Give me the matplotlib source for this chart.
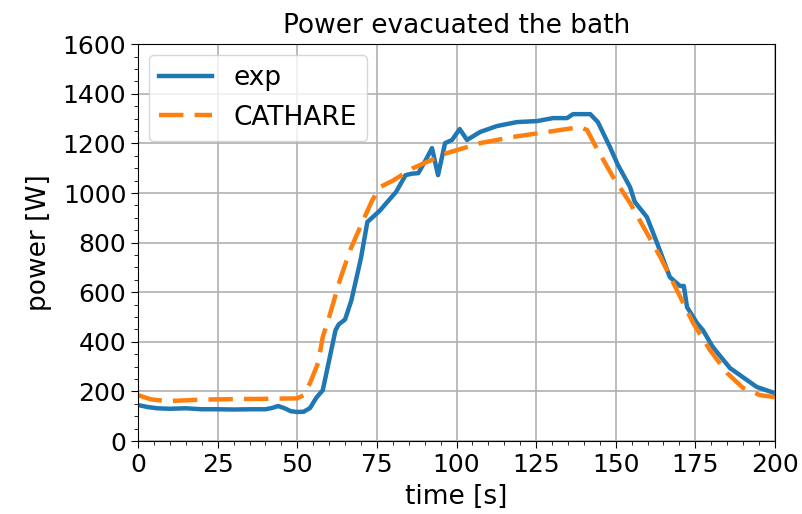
import matplotlib.pyplot as plt
from matplotlib.ticker import AutoMinorLocator, MultipleLocator

t_exp = [0, 3, 6, 10, 15, 20, 25, 30, 35, 40, 42, 44, 46, 48, 50, 52, 54, 56, 58,
         60, 62, 63, 65, 67, 70, 72, 74.4, 76, 78, 81, 84, 86, 88, 90, 92.3, 94.2,
         96.4, 98.6, 101, 103.3, 107.4, 112.7, 119, 125.3, 130.3, 134.7, 136.6,
         142, 144.4, 148.2, 150.7, 154.5, 156, 159.8, 163, 167, 170.2, 171.4,
         172.4, 175.5, 177.4, 180.5, 185.9, 189, 194.3, 200]
p_exp = [145, 137, 132, 130, 132, 128, 128, 127, 128, 128, 133, 141, 132, 120, 117, 118, 133, 175, 205,
         326, 447, 470, 490, 568, 738, 883, 911, 930, 960, 1004, 1072, 1078, 1080, 1125, 1181, 1072,
         1201, 1214, 1258, 1214, 1246, 1270, 1286, 1290, 1302, 1302, 1318,
         1318, 1286, 1185, 1113, 1024, 964, 903, 798, 661, 625, 625,
         540, 476, 447, 379, 294, 266, 218, 193]

# CATHARE calculation
t_cat = [0, 4, 9, 15, 20, 30, 40, 50, 52, 54, 56.5, 58, 60, 63.4, 66.6, 70, 73.5,
         76, 80, 86.3, 97, 107.4, 117.7, 128.4, 138.8, 141, 144, 149.2, 154.5,
         164, 169.2, 174.3, 179.6, 185, 190, 195.3, 200]
p_cat = [185, 168, 161, 164, 167, 169, 170, 172, 185, 234, 314, 420, 500, 650, 770, 870, 970,
         1024, 1050, 1100, 1161, 1201, 1226, 1246, 1266, 1254, 1181, 1064, 960,
         742, 609, 476, 367, 274, 214, 185, 177]

fs = 19
fig = plt.figure(figsize=(8.03, 5.14), dpi=100)
ax = fig.add_axes([0.172, 0.142, 0.793, 0.772])

ax.plot(t_exp, p_exp, color='#1f77b4', lw=3.2, label='exp')
ax.plot(t_cat, p_cat, color='#ff7f0e', lw=3.2, dashes=(5.5, 2.5), label='CATHARE')

ax.set_xlim(0, 200)
ax.set_ylim(0, 1600)
ax.xaxis.set_major_locator(MultipleLocator(25))
ax.yaxis.set_major_locator(MultipleLocator(200))
ax.xaxis.set_minor_locator(AutoMinorLocator(5))
ax.yaxis.set_minor_locator(AutoMinorLocator(4))
ax.grid(True, which='major', color='#b0b0b0', lw=1.2)
ax.tick_params(axis='both', which='major', labelsize=18, length=5)
ax.tick_params(axis='both', which='minor', length=3)

ax.set_title('Power evacuated the bath', fontsize=fs, pad=8)
ax.set_xlabel('time [s]', fontsize=fs, labelpad=5)
ax.set_ylabel('power [W]', fontsize=fs, labelpad=8)
ax.legend(loc='upper left', fontsize=fs, handlelength=2.0, borderaxespad=0.4)

# edge of neighbouring text, cut off in the screenshot
fig.text(0.997, 0.525, '(', fontsize=26, style='italic', ha='left', va='center')

plt.savefig('out.png', dpi=100)
